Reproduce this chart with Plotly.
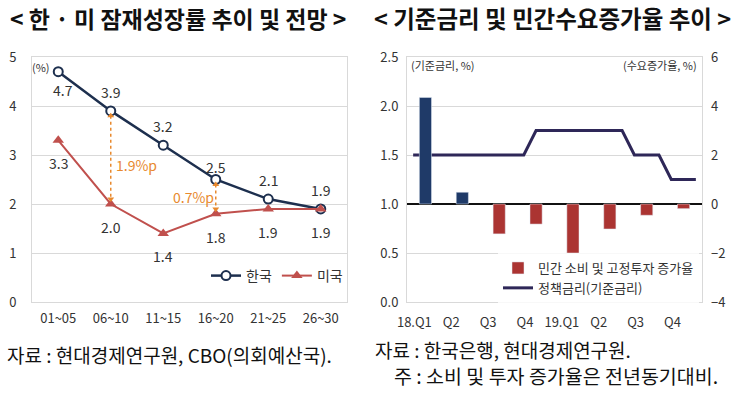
import plotly.graph_objects as go

# ---------------- data ----------------
periods = ["01~05", "06~10", "11~15", "16~20", "21~25", "26~30"]
korea = [4.7, 3.9, 3.2, 2.5, 2.1, 1.9]
usa = [3.3, 2.0, 1.4, 1.8, 1.9, 1.9]

quarters = ["18.Q1", "Q2", "Q3", "Q4", "19.Q1", "Q2", "Q3", "Q4"]
demand_growth = [4.35, 0.48, -1.22, -0.82, -2.0, -1.02, -0.46, -0.19]
policy_rate_monthly = [1.5] * 10 + [1.75] * 2 + [1.75] * 6 + [1.5] * 3 + [1.25] * 3

# ---------------- style ----------------
FONT = "Noto Sans CJK KR"
NAVY = "#1d2f4e"
RED_LINE = "#c0504d"
ORANGE = "#e8892e"
BAR_POS = "#1f3a68"
BAR_NEG = "#ab3432"
RATE = "#2e2758"
GRID = "#d9d9d9"
TXT = "#333333"

fig = go.Figure()

# ---------------- left chart ----------------
fig.add_trace(go.Scatter(
    x=periods, y=korea, name="한국", mode="lines+markers",
    line=dict(color=NAVY, width=2.5),
    marker=dict(symbol="circle", size=9, color="white", line=dict(color=NAVY, width=2)),
    xaxis="x", yaxis="y", legend="legend",
))
fig.add_trace(go.Scatter(
    x=periods, y=usa, name="미국", mode="lines+markers",
    line=dict(color=RED_LINE, width=2),
    marker=dict(symbol="triangle-up", size=10, color=RED_LINE),
    xaxis="x", yaxis="y", legend="legend",
))

# gap arrows (dotted, orange)
for idx in (1, 3):
    fig.add_trace(go.Scatter(
        x=[periods[idx], periods[idx]], y=[korea[idx] - 0.1, usa[idx] + 0.1],
        mode="lines+markers",
        line=dict(color=ORANGE, width=1.5, dash="dot"),
        marker=dict(symbol=["triangle-up", "triangle-down"], size=6, color=ORANGE),
        showlegend=False, xaxis="x", yaxis="y", hoverinfo="skip",
    ))

LBL = dict(size=14, color=TXT, family=FONT)
annotations = []
for i, (p, v) in enumerate(zip(periods, korea)):
    if i == 0:
        annotations.append(dict(x=p, y=v, xref="x", yref="y", text=f"{v:.1f}", showarrow=False,
                                yshift=-18, xshift=5, font=LBL))
    else:
        annotations.append(dict(x=p, y=v, xref="x", yref="y", text=f"{v:.1f}", showarrow=False,
                                yshift=19 if i != 3 else 13, font=LBL))
for p, v in zip(periods, usa):
    annotations.append(dict(x=p, y=v, xref="x", yref="y", text=f"{v:.1f}", showarrow=False,
                            yshift=-23, font=LBL))

gap1 = korea[1] - usa[1]
gap2 = korea[3] - usa[3]
annotations.append(dict(x=1.06, y=(korea[1] + usa[1]) / 2 - 0.15, xref="x", yref="y",
                        text=f"{gap1:.1f}%p", showarrow=False, xanchor="left",
                        font=dict(size=14, color=ORANGE, family=FONT)))
annotations.append(dict(x=3.0, y=(korea[3] + usa[3]) / 2 + 0.0, xref="x", yref="y",
                        text=f"{gap2:.1f}%p", showarrow=False, xanchor="right",
                        font=dict(size=14, color=ORANGE, family=FONT)))

# ---------------- right chart ----------------
pos_vals = [v if v >= 0 else None for v in demand_growth]
neg_vals = [v if v < 0 else None for v in demand_growth]
qx = list(range(len(quarters)))
fig.add_trace(go.Bar(
    x=qx, y=pos_vals, marker=dict(color=BAR_POS), width=0.33,
    showlegend=False, xaxis="x2", yaxis="y3", name="증가율(+)",
))
fig.add_trace(go.Bar(
    x=qx, y=neg_vals, marker=dict(color=BAR_NEG), width=0.33,
    name="민간 소비 및 고정투자 증가율", xaxis="x2", yaxis="y3", legend="legend2",
))
month_x = [m // 3 + ((m % 3) - 1) / 3 for m in range(len(policy_rate_monthly))]
fig.add_trace(go.Scatter(
    x=month_x, y=policy_rate_monthly, mode="lines", name="정책금리(기준금리)",
    line=dict(color=RATE, width=3), xaxis="x2", yaxis="y2", legend="legend2",
))

# ---------------- titles / notes ----------------
annotations += [
    dict(x=8 / 745, y=1 - 18 / 397, xref="paper", yref="paper", xanchor="left", yanchor="middle",
         text="<b>< 한 · 미 잠재성장률 추이 및 전망 ></b>", showarrow=False,
         font=dict(size=23, color="#111111", family=FONT)),
    dict(x=372 / 745, y=1 - 18 / 397, xref="paper", yref="paper", xanchor="left", yanchor="middle",
         text="<b>< 기준금리 및 민간수요증가율 추이 ></b>", showarrow=False,
         font=dict(size=23.5, color="#111111", family=FONT)),
    dict(x=30 / 745, y=1 - 67 / 397, xref="paper", yref="paper", xanchor="left", yanchor="middle",
         text="(%)", showarrow=False, font=dict(size=11, color=TXT, family=FONT)),
    dict(x=409 / 745, y=1 - 65 / 397, xref="paper", yref="paper", xanchor="left", yanchor="middle",
         text="(기준금리, %)", showarrow=False, font=dict(size=11, color=TXT, family=FONT)),
    dict(x=699 / 745, y=1 - 65 / 397, xref="paper", yref="paper", xanchor="right", yanchor="middle",
         text="(수요증가율, %)", showarrow=False, font=dict(size=11, color=TXT, family=FONT)),
    dict(x=5 / 745, y=1 - 354 / 397, xref="paper", yref="paper", xanchor="left", yanchor="middle",
         text="자료 : 현대경제연구원, CBO(의회예산국).", showarrow=False,
         font=dict(size=19, color="#111111", family=FONT)),
    dict(x=374 / 745, y=1 - 349 / 397, xref="paper", yref="paper", xanchor="left", yanchor="middle",
         text="자료 : 한국은행, 현대경제연구원.", showarrow=False, borderpad=0,
         font=dict(size=19, color="#111111", family=FONT)),
    dict(x=393 / 745, y=1 - 375 / 397, xref="paper", yref="paper", xanchor="left", yanchor="middle",
         text="주 : 소비 및 투자 증가율은 전년동기대비.", showarrow=False, borderpad=0,
         font=dict(size=19.5, color="#111111", family=FONT)),
]

ydom = [1 - 302 / 397, 1 - 57 / 397]
tickfont = dict(size=13, color=TXT, family=FONT)

fig.update_layout(
    width=745, height=397,
    margin=dict(l=0, r=0, t=0, b=0, autoexpand=False),
    paper_bgcolor="white", plot_bgcolor="white",
    font=dict(family=FONT, color=TXT),
    barmode="overlay",
    annotations=annotations,
    xaxis=dict(domain=[32 / 745, 347 / 745], type="category", range=[-0.5, 5.5],
               showline=True, linecolor=GRID, mirror=True, showgrid=False, automargin=False,
               ticks="", tickfont=tickfont, anchor="y", fixedrange=True, ticklabelstandoff=4),
    yaxis=dict(domain=ydom, range=[0, 5], dtick=1, showgrid=True, gridcolor=GRID,
               showline=True, linecolor=GRID, mirror=True, zeroline=False, automargin=False,
               ticks="", tickfont=tickfont, anchor="x", fixedrange=True, ticklabelstandoff=12),
    xaxis2=dict(domain=[407 / 745, 702 / 745], range=[-0.5, 7.5],
                tickvals=[i - 0.3 for i in qx], ticktext=quarters, automargin=False,
                showline=True, linecolor=GRID, mirror=True, showgrid=False, zeroline=False,
                ticks="", tickfont=tickfont, anchor="y2", fixedrange=True, ticklabelstandoff=8),
    yaxis2=dict(domain=ydom, range=[0, 2.5], dtick=0.5, tickformat=".1f", automargin=False,
                showgrid=True, gridcolor=GRID, showline=True, linecolor=GRID, mirror=True,
                zeroline=False, ticks="", tickfont=tickfont, anchor="x2", fixedrange=True,
                ticklabelstandoff=5),
    yaxis3=dict(range=[-4, 6], dtick=2, overlaying="y2", side="right", anchor="x2",
                showgrid=False, zeroline=True, zerolinecolor="#111111", zerolinewidth=2,
                automargin=False, ticks="", tickfont=tickfont, fixedrange=True,
                ticklabelstandoff=8),
    legend=dict(orientation="h", x=206 / 745, y=1 - 260 / 397, xanchor="left", yanchor="top",
                bgcolor="rgba(255,255,255,0)", font=dict(size=14, color=TXT, family=FONT),
                itemwidth=30, tracegroupgap=0),
    legend2=dict(orientation="v", x=498 / 745, y=1 - 253 / 397, xanchor="left", yanchor="top",
                 bgcolor="rgba(255,255,255,0.8)", font=dict(size=13, color=TXT, family=FONT),
                 itemwidth=30, tracegroupgap=0),
    showlegend=True,
)

fig.write_html("out.html", config={"displayModeBar": False},
               post_script="document.body.style.margin='0';")
